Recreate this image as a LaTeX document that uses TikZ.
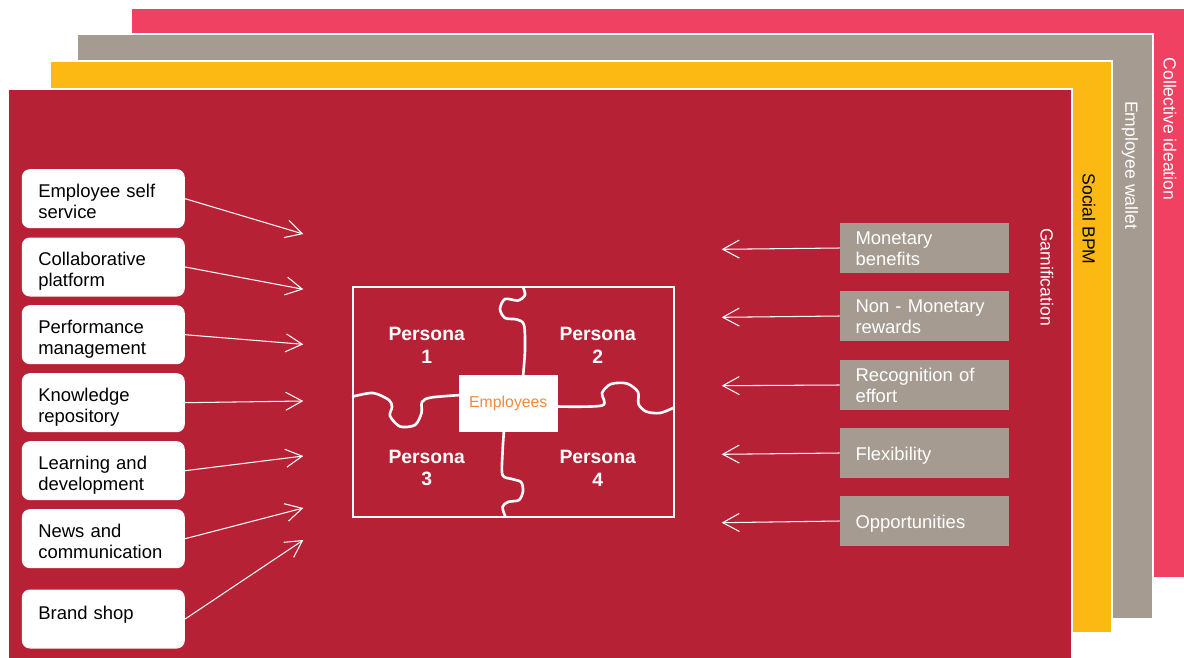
\documentclass[tikz,border=0pt]{standalone}
\usepackage{fontspec}
\setmainfont{Liberation Sans}
\usetikzlibrary{arrows.meta}

\definecolor{ideapink}{HTML}{F04162}
\definecolor{walletgrey}{HTML}{A69B91}
\definecolor{bpmyellow}{HTML}{FDB913}
\definecolor{gamered}{HTML}{B72135}
\definecolor{staffonange}{HTML}{F28A3C}

\begin{document}
\begin{tikzpicture}[x=0.02cm,y=-0.02cm,
	layer/.style={draw=white,line width=0.8pt},
	layerlabel/.style={rotate=-90,font=\fontsize{10}{12}\selectfont},
	toolbox/.style={draw=none,fill=white,rounded corners=8*0.02cm,
		minimum height=1.18cm,text width=2.6cm,inner xsep=0.33cm,
		text height=12pt,text depth=13.7pt,
		align=left,font=\fontsize{10.5}{12}\selectfont},
	rewardbox/.style={draw=none,fill=walletgrey,minimum height=0.99cm,
		text width=2.76cm,inner xsep=0.31cm,inner ysep=1pt,align=left,text=white,
		text height=10pt,text depth=13.5pt,
		font=\fontsize{10.5}{11.5}\selectfont},
	oneline/.style={text height=#1,text depth=#1},
	persona/.style={align=center,text=white,font=\fontsize{11}{13}\selectfont\bfseries},
	feed/.style={draw=white,line width=0.6pt,
		-{Straight Barb[length=3.3mm,width=3.6mm]}},
	piece/.style={draw=white,line width=1.5pt,line cap=round,line join=round}]

	\useasboundingbox (0,0) rectangle (1184,657);
	\fill[white] (0,0) rectangle (1184,657);

	% layers
	\filldraw[layer,fill=ideapink] (131,8) rectangle (1190,578);
	\filldraw[layer,fill=walletgrey] (77,34) rectangle (1153,619);
	\filldraw[layer,fill=bpmyellow] (50,61) rectangle (1112,633);
	\filldraw[layer,fill=gamered] (8,89) rectangle (1072,665);

	% layer labels
	\node[layerlabel,text=white] (ideation) at (1170,129) {Collective ideation};
	\node[layerlabel,text=white] (wallet) at (1130,165) {Employee wallet};
	\node[layerlabel,text=black] (bpm) at (1089,219) {Social BPM};
	\node[layerlabel,text=white] (gamif) at (1047,277) {Gamification};

	% puzzle
	\draw[white,line width=1.2pt] (352.7,287.3) rectangle (674.3,517.3);
	\draw[piece] plot [smooth] coordinates {
	(523,287)
	(525,295)
	(518,300.5)
	(505,299)
	(500,309)
	(505,318)
	(517,319.5)
	(524,325)
	(525,350)
	(523,377)};
	\draw[piece] plot [smooth] coordinates {
	(504,430)
	(502.5,453)
	(502.5,475)
	(512,479)
	(521,482)
	(523,491)
	(519,500)
	(508,502)
	(502.5,507)
	(505.5,517)};
	\draw[piece] plot [smooth] coordinates {
	(353,396.5)
	(373,393)
	(389,400)
	(392,407)
	(390,416)
	(400,426.5)
	(415,425)
	(421.5,413)
	(422,402)
	(431,397.5)
	(461,395)};
	\draw[piece] plot [smooth] coordinates {
	(556,406.5)
	(602,405.5)
	(602,393)
	(611,384)
	(627,383.5)
	(638,392)
	(638.5,404)
	(646,411.5)
	(660,413)
	(674,407.5)};

	% centre
	\node[fill=white,minimum width=1.97cm,minimum height=1.13cm,inner sep=0pt,
		text=staffonange,font=\fontsize{9}{11}\selectfont] (staff) at (508.3,403.3) {Employees};
	\node[persona] (p1) at (426.7,345) {Persona\\1};
	\node[persona] (p2) at (597.7,345) {Persona\\2};
	\node[persona] (p3) at (426.7,468) {Persona\\3};
	\node[persona] (p4) at (597.7,468) {Persona\\4};

	% tools
	\node[toolbox] (selfserv) at (103.3,198.7) {Employee self\\service};
	\node[toolbox] (collab) at (103.3,267) {Collaborative\\platform};
	\node[toolbox] (perf) at (103.3,334.7) {Performance\\management};
	\node[toolbox] (know) at (103.3,402.7) {Knowledge\\repository};
	\node[toolbox] (learn) at (103.3,470.7) {Learning and\\development};
	\node[toolbox] (news) at (103.3,538.7) {News and\\communication};
	\node[toolbox,oneline=8pt] (brand) at (103.3,619) {Brand shop};

	\coordinate (in1) at (303.3,234);
	\coordinate (in2) at (303.3,289.3);
	\coordinate (in3) at (303.3,344.3);
	\coordinate (in4) at (303.3,401);
	\coordinate (in5) at (303.3,456);
	\coordinate (in6) at (303.3,508);
	\coordinate (in7) at (303.3,540);

	\draw[feed] (selfserv.east) -- (in1);
	\draw[feed] (collab.east) -- (in2);
	\draw[feed] (perf.east) -- (in3);
	\draw[feed] (know.east) -- (in4);
	\draw[feed] (learn.east) -- (in5);
	\draw[feed] (news.east) -- (in6);
	\draw[feed] (brand.east) -- (in7);

	% rewards
	\node[rewardbox] (money) at (924.5,248) {Monetary\\benefits};
	\node[rewardbox] (nonmoney) at (924.5,316) {Non - Monetary\\rewards};
	\node[rewardbox] (recog) at (924.5,385) {Recognition of\\effort};
	\node[rewardbox,text depth=2pt] (flex) at (924.5,453) {Flexibility};
	\node[rewardbox,text depth=2pt] (oppo) at (924.5,521) {Opportunities};

	\coordinate (out1) at (721.7,249.3);
	\coordinate (out2) at (721.7,317.3);
	\coordinate (out3) at (721.7,385.7);
	\coordinate (out4) at (721.7,454.3);
	\coordinate (out5) at (721.7,522.7);

	\draw[feed] (money.west) -- (out1);
	\draw[feed] (nonmoney.west) -- (out2);
	\draw[feed] (recog.west) -- (out3);
	\draw[feed] (flex.west) -- (out4);
	\draw[feed] (oppo.west) -- (out5);

\end{tikzpicture}
\end{document}
